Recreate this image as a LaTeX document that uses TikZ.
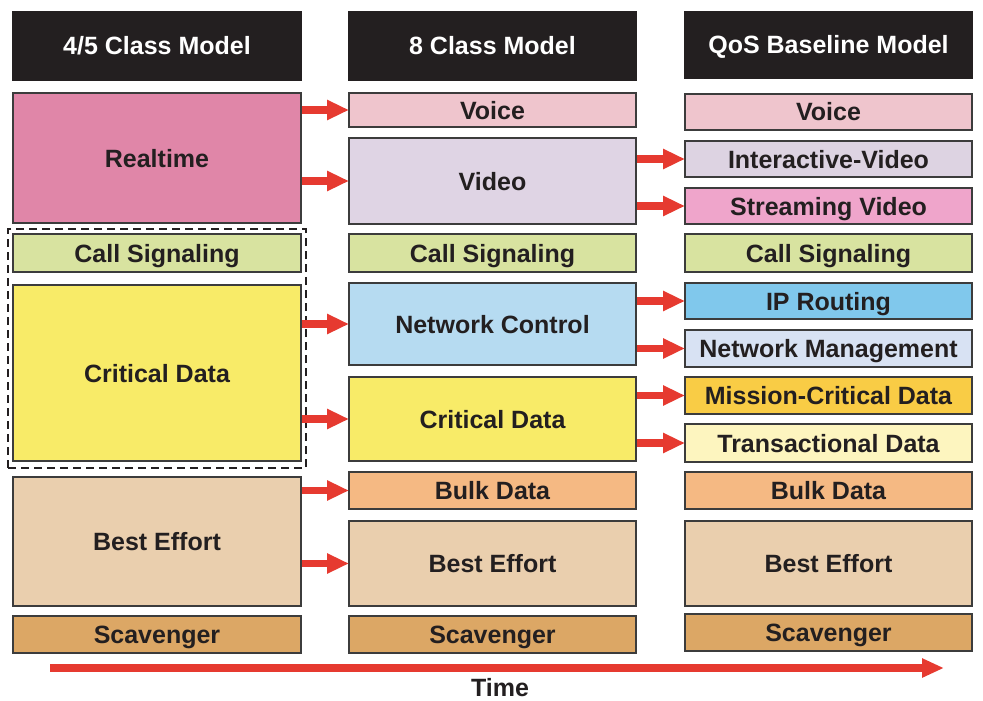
\documentclass[tikz,border=0pt]{standalone}
\usepackage{fontspec}
\setmainfont{Liberation Sans}
\usetikzlibrary{arrows.meta}
\definecolor{ink}{HTML}{231F20}
\definecolor{edge}{HTML}{3C3C3C}
\definecolor{hdr}{HTML}{231F20}
\definecolor{arrred}{HTML}{E63A30}
\definecolor{cRT}{HTML}{E086A8}
\definecolor{cVoice}{HTML}{EFC5CD}
\definecolor{cVideo}{HTML}{DFD4E4}
\definecolor{cCall}{HTML}{D8E3A0}
\definecolor{cCrit}{HTML}{F8EB68}
\definecolor{cNet}{HTML}{B6DBF1}
\definecolor{cIP}{HTML}{80C8EC}
\definecolor{cNM}{HTML}{D8E2F3}
\definecolor{cMiss}{HTML}{F9CC45}
\definecolor{cTrans}{HTML}{FDF5BF}
\definecolor{cBE}{HTML}{EACFAE}
\definecolor{cBulk}{HTML}{F5B983}
\definecolor{cScav}{HTML}{DCA765}
\definecolor{cStream}{HTML}{EFA5CB}
\definecolor{cIV}{HTML}{DDD3E2}
\newcommand{\qbox}[7]{%
  \pgfmathsetmacro{\qw}{#4-#2}\pgfmathsetmacro{\qh}{#5-#3}%
  \pgfmathsetmacro{\qx}{(#2+#4)/2}\pgfmathsetmacro{\qy}{(#3+#5)/2}%
  \node[qb, #6, minimum width=\qw pt, minimum height=\qh pt] (#1) at (\qx,\qy) {#7};}
\begin{document}
\begin{tikzpicture}[x=1pt,y=-1pt,
  qb/.style={draw=edge, line width=1.2pt, inner sep=0pt, outer sep=0pt, rectangle,
    text=ink, font=\fontsize{25}{25}\selectfont\bfseries, text height=18pt, text depth=0pt},
  hd/.style={fill=hdr, draw=hdr, text=white},
  arr/.style={draw=arrred, line width=7.5pt, -{Triangle[length=22pt,width=19pt]}},
  tarr/.style={draw=arrred, line width=7.5pt, -{Triangle[length=22pt,width=18pt]}},
  grpbox/.style={draw=ink, line width=2.5pt, dash pattern=on 8pt off 5pt, inner sep=0pt, rectangle},
  lbl/.style={text=ink, font=\fontsize{25}{25}\selectfont\bfseries, text height=18pt, text depth=0pt, inner sep=0pt}]
\useasboundingbox (0,0) rectangle (983,701);
% headers
\qbox{h1}{13}{12}{301}{80}{hd}{4/5 Class Model}
\qbox{h2}{349}{12}{636}{80}{hd}{8 Class Model}
\qbox{h3}{685}{12}{972}{78}{hd}{QoS Baseline Model}
% column 1
\qbox{rt}{13}{93}{301}{223}{fill=cRT}{Realtime}
\qbox{cs1}{13}{234}{301}{272}{fill=cCall}{Call Signaling}
\qbox{cd1}{13}{285}{301}{461}{fill=cCrit}{Critical Data}
\qbox{be1}{13}{477}{301}{606}{fill=cBE}{Best Effort}
\qbox{sc1}{13}{616}{301}{653}{fill=cScav}{Scavenger}
\node[grpbox, minimum width=298pt, minimum height=239pt] (grp) at (157,348.5) {};
% column 2
\qbox{vo2}{349}{93}{636}{127}{fill=cVoice}{Voice}
\qbox{vi2}{349}{138}{636}{224}{fill=cVideo}{Video}
\qbox{cs2}{349}{234}{636}{272}{fill=cCall}{Call Signaling}
\qbox{nc2}{349}{283}{636}{365}{fill=cNet}{Network Control}
\qbox{cd2}{349}{377}{636}{461}{fill=cCrit}{Critical Data}
\qbox{bd2}{349}{472}{636}{509}{fill=cBulk}{Bulk Data}
\qbox{be2}{349}{521}{636}{606}{fill=cBE}{Best Effort}
\qbox{sc2}{349}{616}{636}{653}{fill=cScav}{Scavenger}
% column 3
\qbox{vo3}{685}{94}{972}{130}{fill=cVoice}{Voice}
\qbox{iv3}{685}{141}{972}{177}{fill=cIV}{Interactive-Video}
\qbox{sv3}{685}{188}{972}{224}{fill=cStream}{Streaming Video}
\qbox{cs3}{685}{234}{972}{272}{fill=cCall}{Call Signaling}
\qbox{ip3}{685}{283}{972}{319}{fill=cIP}{IP Routing}
\qbox{nm3}{685}{330}{972}{367}{fill=cNM}{Network Management}
\qbox{mc3}{685}{377}{972}{414}{fill=cMiss}{Mission-Critical Data}
\qbox{td3}{685}{424}{972}{462}{fill=cTrans}{Transactional Data}
\qbox{bd3}{685}{472}{972}{509}{fill=cBulk}{Bulk Data}
\qbox{be3}{685}{521}{972}{606}{fill=cBE}{Best Effort}
\qbox{sc3}{685}{614}{972}{651}{fill=cScav}{Scavenger}
% arrows col1 -> col2
\draw[arr] ([xshift=1pt]rt.east |- vo2.west) -- (vo2.west);
\draw[arr] ([xshift=1pt]rt.east |- vi2.west) -- (vi2.west);
\draw[arr] ([xshift=1pt]cd1.east |- nc2.west) -- (nc2.west);
\draw[arr] ([xshift=1pt]cd1.east |- cd2.west) -- (cd2.west);
\draw[arr] ([xshift=1pt]be1.east |- bd2.west) -- (bd2.west);
\draw[arr] ([xshift=1pt]be1.east |- be2.west) -- (be2.west);
% arrows col2 -> col3
\draw[arr] ([xshift=1pt]vi2.east |- iv3.west) -- (iv3.west);
\draw[arr] ([xshift=1pt]vi2.east |- sv3.west) -- (sv3.west);
\draw[arr] ([xshift=1pt]nc2.east |- ip3.west) -- (ip3.west);
\draw[arr] ([xshift=1pt]nc2.east |- nm3.west) -- (nm3.west);
\draw[arr] ([xshift=1pt]cd2.east |- mc3.west) -- (mc3.west);
\draw[arr] ([xshift=1pt]cd2.east |- td3.west) -- (td3.west);
% time arrow
\coordinate (t0) at (50,668);
\coordinate (t1) at (944,668);
\draw[tarr] (t0) -- (t1);
\node[lbl] (time) at (500,687) {Time};
\end{tikzpicture}
\end{document}
